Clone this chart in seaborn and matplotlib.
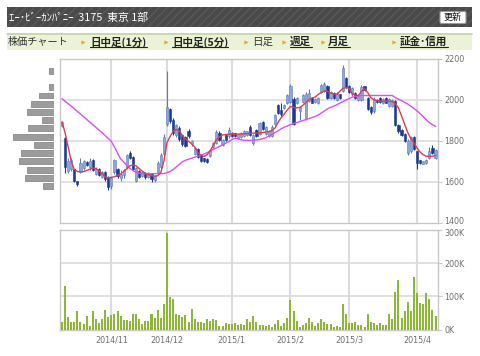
"""
Stock chart widget: daily candles with moving averages, volume bars and
a price-by-volume profile, drawn to 480x356 px.
"""

import matplotlib

matplotlib.use("Agg")

import matplotlib.pyplot as plt
import matplotlib.transforms as mtransforms
import numpy as np
import seaborn as sns
from matplotlib.patches import FancyBboxPatch, Rectangle

W, H = 480, 356

# ---------------------------------------------------------------------------
# Data
# ---------------------------------------------------------------------------
title_text = "ｴｰ･ﾋﾞｰｶﾝﾊﾟﾆｰ  3175  東京 1部"
nav_items = ["日中足(1分)", "日中足(5分)", "日足", "週足", "月足", "証金･信用"]
nav_linked = [True, True, False, True, True, True]

month_labels = ["2014/11", "2014/12", "2015/1", "2015/2", "2015/3", "2015/4"]
month_start_idx = [16, 34, 55, 74, 93, 115]
price_ticks = [1400, 1600, 1800, 2000, 2200]
vol_ticks = [0, 100, 200, 300]

opens = [1870, 1815, 1655, 1665, 1662, 1602, 1650, 1668, 1698, 1670,
         1705, 1640, 1662, 1625, 1648, 1625, 1580, 1650, 1665, 1620,
         1632, 1670, 1742, 1720, 1605, 1652, 1630, 1645, 1625, 1640,
         1610, 1650, 1670, 1735, 1880, 1952, 1900, 1830, 1862, 1830,
         1820, 1845, 1785, 1735, 1760, 1730, 1715, 1712, 1725, 1770,
         1790, 1838, 1780, 1830, 1822, 1838, 1836, 1815, 1820, 1822,
         1830, 1868, 1790, 1850, 1835, 1892, 1835, 1822, 1825, 1880,
         1975, 1950, 1960, 1985, 1990, 2005, 1985, 1945, 1988, 1910,
         1995, 2008, 1990, 1985, 2035, 2040, 2065, 2008, 2032, 2000,
         2025, 2040, 2107, 2065, 2025, 2032, 2000, 2000, 2065, 2008,
         1965, 1945, 2000, 2008, 1985, 2008, 1968, 1970, 1995, 1878,
         1850, 1832, 1740, 1750, 1820, 1748, 1705, 1688, 1690, 1715,
         1765, 1715]
highs = [1895, 1820, 1715, 1715, 1665, 1606, 1715, 1705, 1702, 1715,
         1712, 1670, 1666, 1655, 1652, 1630, 1625, 1710, 1668, 1660,
         1665, 1735, 1752, 1725, 1670, 1656, 1655, 1650, 1650, 1645,
         1635, 1700, 1740, 1835, 2138, 1960, 1910, 1880, 1870, 1835,
         1825, 1855, 1805, 1770, 1765, 1735, 1718, 1716, 1760, 1795,
         1850, 1845, 1810, 1835, 1865, 1842, 1840, 1835, 1842, 1850,
         1848, 1875, 1835, 1858, 1890, 1898, 1872, 1848, 1875, 1930,
         1980, 1985, 1980, 2028, 2075, 2012, 2012, 1965, 2028, 2035,
         2050, 2012, 2010, 2012, 2075, 2085, 2072, 2040, 2036, 2035,
         2028, 2168, 2112, 2070, 2060, 2036, 2025, 2070, 2068, 2012,
         1970, 2012, 2004, 2012, 2010, 2012, 2010, 2004, 2000, 1882,
         1855, 1836, 1810, 1825, 1825, 1752, 1708, 1702, 1710, 1770,
         1780, 1760]
lows = [1865, 1645, 1642, 1655, 1598, 1580, 1645, 1660, 1675, 1660,
        1655, 1635, 1630, 1620, 1605, 1560, 1565, 1640, 1620, 1605,
        1620, 1665, 1712, 1660, 1600, 1620, 1625, 1615, 1620, 1598,
        1600, 1645, 1665, 1730, 1870, 1885, 1830, 1820, 1800, 1775,
        1770, 1815, 1775, 1730, 1718, 1695, 1695, 1692, 1720, 1765,
        1785, 1800, 1775, 1800, 1815, 1818, 1818, 1810, 1815, 1818,
        1825, 1825, 1780, 1820, 1830, 1850, 1830, 1818, 1820, 1875,
        1930, 1922, 1955, 1980, 1985, 1875, 1980, 1900, 1982, 1900,
        1990, 1982, 1985, 1980, 2030, 2035, 2005, 2004, 2005, 1995,
        2005, 2035, 2055, 2030, 2020, 2005, 1995, 1995, 2040, 1950,
        1930, 1935, 1985, 1985, 1980, 1982, 1965, 1965, 1870, 1840,
        1822, 1795, 1732, 1740, 1755, 1662, 1688, 1685, 1686, 1712,
        1735, 1712]
closes = [1893, 1670, 1700, 1705, 1605, 1588, 1690, 1700, 1680, 1702,
          1660, 1665, 1635, 1650, 1615, 1575, 1620, 1705, 1628, 1640,
          1660, 1730, 1715, 1665, 1667, 1625, 1650, 1625, 1640, 1612,
          1628, 1690, 1732, 1820, 1965, 1895, 1840, 1875, 1810, 1785,
          1775, 1822, 1800, 1765, 1723, 1700, 1700, 1698, 1755, 1790,
          1843, 1805, 1805, 1805, 1850, 1822, 1822, 1832, 1838, 1846,
          1845, 1830, 1830, 1825, 1885, 1855, 1868, 1845, 1868, 1925,
          1935, 1928, 1975, 2022, 2068, 1882, 2008, 1962, 2022, 2025,
          2032, 1986, 2005, 2008, 2070, 2078, 2010, 2035, 2010, 2030,
          2010, 2155, 2060, 2035, 2055, 2010, 2020, 2060, 2045, 1955,
          1938, 2005, 1990, 1990, 2005, 1985, 2005, 2000, 1876, 1845,
          1828, 1800, 1800, 1818, 1760, 1692, 1692, 1700, 1705, 1752,
          1740, 1755]

ma_short = [1892, 1840, 1770, 1700, 1660, 1650, 1650, 1650, 1655, 1662,
            1667, 1665, 1655, 1640, 1625, 1620, 1622, 1625, 1632, 1638,
            1650, 1665, 1678, 1683, 1678, 1665, 1652, 1642, 1635, 1630,
            1628, 1630, 1645, 1700, 1790, 1820, 1845, 1855, 1848, 1825,
            1810, 1797, 1785, 1770, 1742, 1730, 1724, 1732, 1750, 1778,
            1805, 1818, 1828, 1830, 1832, 1832, 1832, 1832, 1833, 1834,
            1835, 1836, 1837, 1837, 1838, 1840, 1842, 1845, 1850, 1862,
            1890, 1912, 1930, 1950, 1967, 1962, 1960, 1962, 1972, 1985,
            2000, 2008, 2012, 2025, 2035, 2042, 2040, 2032, 2028, 2025,
            2040, 2055, 2058, 2055, 2030, 2022, 2020, 2040, 2055, 2035,
            2010, 2000, 1995, 1992, 1992, 1992, 1992, 1990, 1980, 1960,
            1920, 1880, 1840, 1810, 1790, 1765, 1745, 1732, 1725, 1724,
            1725, 1728]
ma_long = [2005, 1992, 1980, 1968, 1955, 1942, 1930, 1917, 1904, 1891,
           1878, 1865, 1852, 1839, 1825, 1811, 1797, 1770, 1740, 1712,
           1697, 1680, 1665, 1655, 1648, 1643, 1640, 1640, 1640, 1640,
           1640, 1640, 1640, 1640, 1645, 1650, 1660, 1672, 1685, 1698,
           1705, 1710, 1715, 1720, 1725, 1730, 1735, 1742, 1750, 1758,
           1765, 1772, 1780, 1788, 1795, 1805, 1812, 1810, 1805, 1802,
           1802, 1802, 1803, 1804, 1806, 1810, 1815, 1822, 1830, 1840,
           1848, 1858, 1866, 1872, 1878, 1884, 1888, 1893, 1898, 1903,
           1908, 1913, 1918, 1925, 1935, 1945, 1955, 1962, 1968, 1975,
           1983, 1990, 1998, 2005, 2012, 2016, 2018, 2020, 2020, 2020,
           2020, 2020, 2020, 2020, 2020, 2020, 2020, 2020, 2010, 2002,
           1995, 1987, 1978, 1968, 1957, 1945, 1932, 1918, 1902, 1888,
           1878, 1870]

volume_k = [22, 131, 38, 22, 24, 55, 22, 17, 41, 12,
            55, 31, 20, 33, 58, 38, 43, 48, 55, 41,
            30, 30, 25, 46, 46, 33, 17, 25, 27, 48,
            36, 60, 36, 78, 290, 99, 91, 48, 45, 38,
            45, 22, 63, 31, 22, 22, 20, 31, 25, 31,
            30, 12, 12, 20, 17, 17, 20, 15, 17, 15,
            31, 24, 40, 24, 14, 14, 12, 13, 7, 17,
            30, 12, 20, 36, 88, 56, 27, 9, 15, 21,
            36, 22, 12, 19, 31, 22, 17, 17, 9, 12,
            9, 76, 46, 20, 20, 22, 15, 15, 9, 46,
            22, 19, 14, 19, 15, 15, 46, 33, 114, 150,
            35, 56, 83, 56, 158, 111, 81, 76, 111, 92,
            60, 40]

# price-by-volume profile (bin centre, relative size)
profile_price = [2140, 2060, 2020, 1980, 1940, 1900, 1860, 1820,
                 1780, 1740, 1700, 1660, 1620, 1580]
profile_size = [5, 5.6, 15.6, 23.3, 27.3, 12.3, 26, 41,
                20.6, 33, 35, 27, 29.6, 11]

# ---------------------------------------------------------------------------
# Style
# ---------------------------------------------------------------------------
sns.set_style("white")
plt.rcParams["font.family"] = ["Noto Sans CJK JP", "DejaVu Sans"]

GRID = "#dcdcdc"
SPINE = "#c8c8c8"
TICK_TXT = "#707070"
UP_BODY, UP_EDGE = "#8ea8d6", "#5a7cbf"
DN_BODY = "#1b3a94"
VOL_GREEN = "#8cb833"
MA_RED = "#e6394f"
MA_MAGENTA = "#da4ff2"


def box(x0, y0, x1, y1):
    """Pixel box (top-left origin) -> figure fraction rect."""
    return [x0 / W, 1 - y1 / H, (x1 - x0) / W, (y1 - y0) / H]


fig = plt.figure(figsize=(W / 100, H / 100), dpi=100)

# --- header / navigation decorations in pixel space ---
deco = fig.add_axes([0, 0, 1, 1])
deco.set_xlim(0, W)
deco.set_ylim(H, 0)
deco.set_axis_off()
deco.patch.set_visible(False)

deco.add_patch(Rectangle((7, 7), 465, 20, facecolor="#4a4a4a",
                         edgecolor="#595959", hatch="////", lw=0))
deco.text(9, 17.5, title_text, color="white", fontsize=7.8,
          va="center", ha="left")
deco.add_patch(FancyBboxPatch((440, 11.5), 26, 12,
                              boxstyle="round,pad=0,rounding_size=1.5",
                              facecolor="white", edgecolor="#9a9a9a", lw=0.8))
deco.text(453, 17.7, "更新", color="#111111", fontsize=6.5,
          va="center", ha="center")

deco.add_patch(Rectangle((7, 33), 465, 17, facecolor="#eaf3d5", lw=0))
deco.plot([7, 472], [33.5, 33.5], color="#c3d4a3", lw=1.2)
deco.text(8, 42, "株価チャート", color="#333333", fontsize=7.3,
          va="center", ha="left")

nav_arrow_x = [83, 166, 246, 284, 323, 394]
nav_text_x = [90, 172, 252, 290, 328, 400]
nav_text_end = [147, 228, 272, 312, 350, 448]
for ax_, tx, tend, label, linked in zip(nav_arrow_x, nav_text_x,
                                        nav_text_end, nav_items, nav_linked):
    deco.plot(ax_, 42, marker=">", ms=3, color="#f0a030", mec="none")
    deco.text(tx, 42, label, color="#222222" if linked else "#333333",
              fontsize=7.6, fontweight="bold" if linked else "normal",
              va="center", ha="left")
    if linked:
        deco.plot([tx, tend], [47.3, 47.3], color="#222222", lw=0.8)

# ---------------------------------------------------------------------------
# Price panel
# ---------------------------------------------------------------------------
idx = np.arange(len(closes))
o = np.array(opens)
c = np.array(closes)
up = c >= o

ax = fig.add_axes(box(59.5, 58.5, 438, 223))
ax.set_xlim(-0.8, 121.8)
ax.set_ylim(1400, 2200)

for m in month_start_idx:
    ax.axvline(m, color=GRID, lw=1.5, zorder=0)
for p in price_ticks[1:-1]:
    ax.axhline(p, color=GRID, lw=1.2, zorder=0)

ax.vlines(idx, lows, highs, colors=np.where(up, UP_EDGE, DN_BODY),
          lw=0.8, zorder=2)
body_h = np.maximum(np.abs(c - o), 3)
ax.bar(idx, body_h, bottom=np.minimum(o, c), width=0.7,
       color=np.where(up, UP_BODY, DN_BODY),
       edgecolor=np.where(up, UP_EDGE, DN_BODY), lw=0.4, zorder=3)

sns.lineplot(x=idx, y=ma_long, ax=ax, color=MA_MAGENTA, lw=1.0, zorder=4)
sns.lineplot(x=idx, y=ma_short, ax=ax, color=MA_RED, lw=1.0, zorder=5)

ax.set_xticks([])
ax.yaxis.tick_right()
ax.set_yticks(price_ticks)
ax.set_yticklabels([str(p) for p in price_ticks], family="DejaVu Sans",
                   fontsize=5.8, color=TICK_TXT)
ax.tick_params(axis="y", length=3, width=0.8, color=SPINE, pad=1.5)
ax.set_xlabel("")
ax.set_ylabel("")
for s in ax.spines.values():
    s.set_color(SPINE)
    s.set_linewidth(1.0)

# ---------------------------------------------------------------------------
# Volume panel
# ---------------------------------------------------------------------------
axv = fig.add_axes(box(59.5, 230, 438, 329.5))
for m in month_start_idx:
    axv.axvline(m, color=GRID, lw=1.5, zorder=0)
for v in vol_ticks[1:-1]:
    axv.axhline(v, color=GRID, lw=1.2, zorder=0)

sns.barplot(x=idx, y=volume_k, ax=axv, native_scale=True, width=0.65,
            color=VOL_GREEN, saturation=1, errorbar=None, lw=0, zorder=3)
axv.set_xlim(-0.8, 121.8)
axv.set_ylim(0, 300)
axv.set_xticks(month_start_idx)
axv.set_xticklabels(month_labels, family="DejaVu Sans", fontsize=5.8,
                    color=TICK_TXT)
axv.tick_params(axis="x", length=0, pad=4)
axv.yaxis.tick_right()
axv.set_yticks(vol_ticks)
axv.set_yticklabels([f"{v}K" for v in vol_ticks], family="DejaVu Sans",
                    fontsize=5.8, color=TICK_TXT)
axv.tick_params(axis="y", length=3, width=0.8, color=SPINE, pad=1.5)
axv.set_xlabel("")
axv.set_ylabel("")
for s in axv.spines.values():
    s.set_color(SPINE)
    s.set_linewidth(1.0)

# nudge the two labels that meet between the panels apart a little
nudge_up = mtransforms.ScaledTranslation(0, 2.2 / 100, fig.dpi_scale_trans)
nudge_dn = mtransforms.ScaledTranslation(0, -2.2 / 100, fig.dpi_scale_trans)
lbl_1400 = ax.get_yticklabels()[0]
lbl_1400.set_transform(lbl_1400.get_transform() + nudge_up)
lbl_300k = axv.get_yticklabels()[-1]
lbl_300k.set_transform(lbl_300k.get_transform() + nudge_dn)

# ---------------------------------------------------------------------------
# Price-by-volume profile (left)
# ---------------------------------------------------------------------------
axp = fig.add_axes(box(9.3, 58.5, 54.3, 223))
axp.barh(profile_price, profile_size, height=29, color="#9c9c9c",
         edgecolor="#7e7e7e", lw=0.5)
axp.set_xlim(45, 0)
axp.set_ylim(1400, 2200)
axp.set_axis_off()
axp.patch.set_visible(False)

fig.savefig("out.png", dpi=100)
